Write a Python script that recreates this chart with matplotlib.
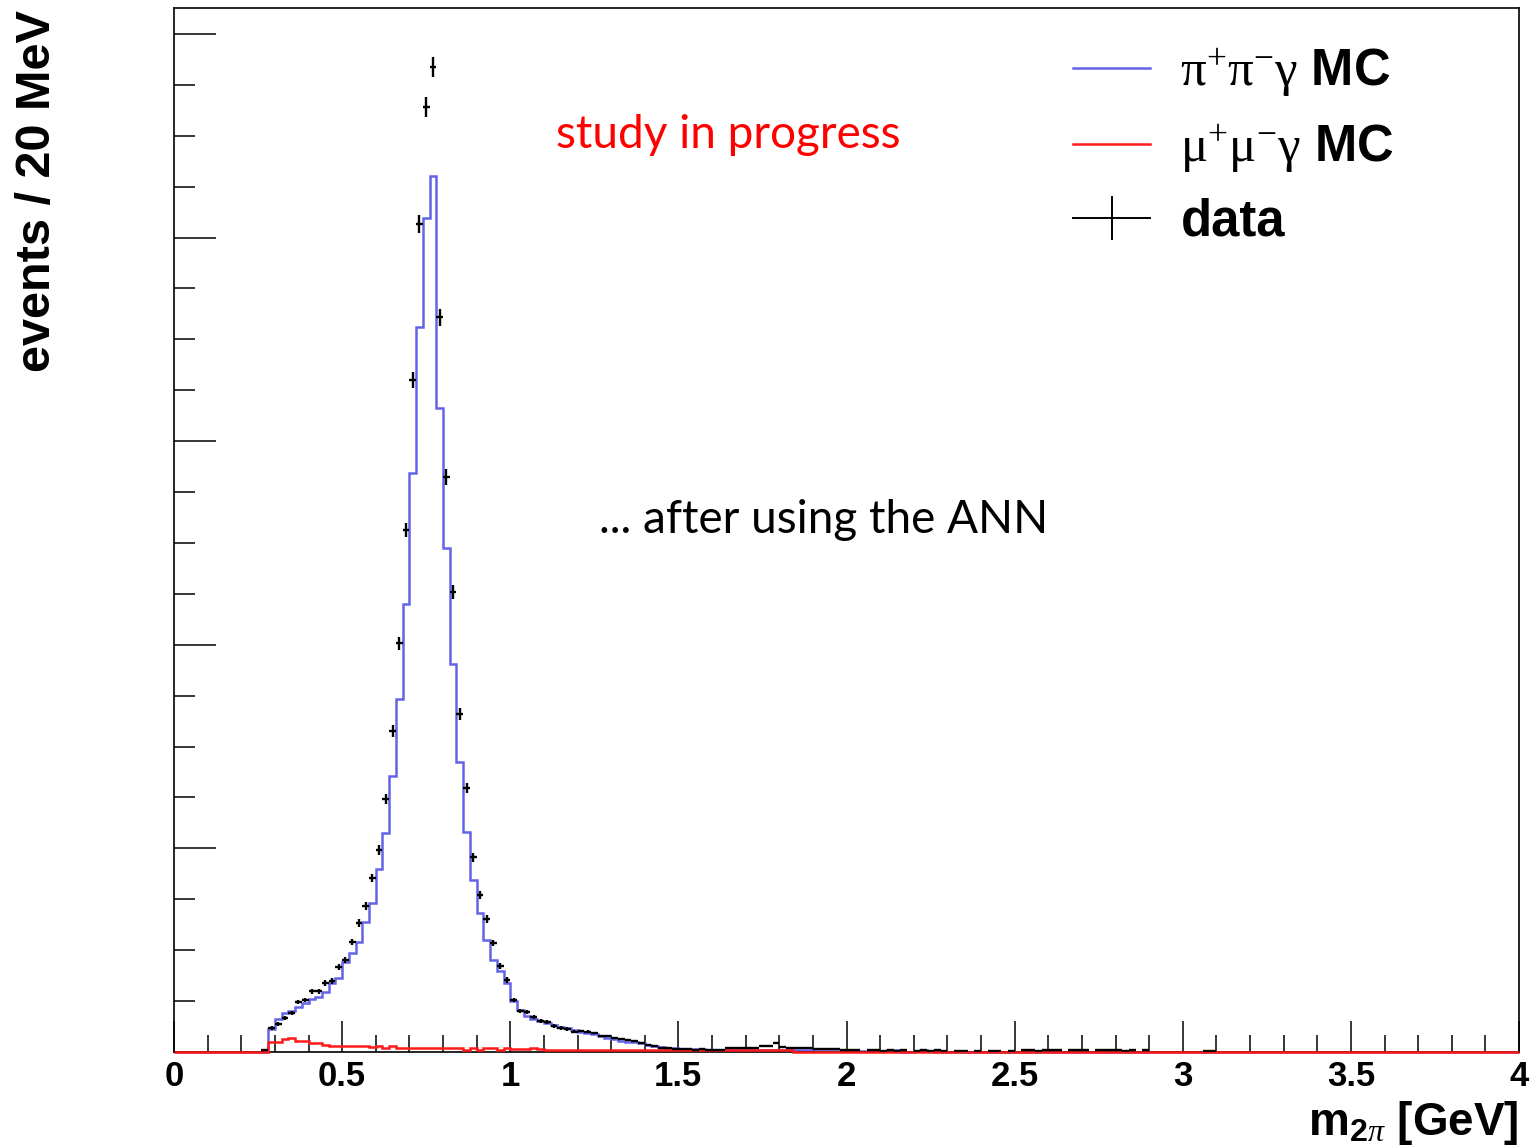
import numpy as np
import matplotlib.pyplot as plt
from matplotlib.lines import Line2D
from matplotlib.ticker import MultipleLocator

plt.rcParams['font.family'] = ['Liberation Sans', 'DejaVu Sans']
plt.rcParams['mathtext.fontset'] = 'custom'
plt.rcParams['mathtext.rm'] = 'Liberation Serif'
plt.rcParams['mathtext.bf'] = 'Liberation Sans:bold'
plt.rcParams['mathtext.it'] = 'Liberation Serif:italic'

# --- histogram data (events per 20 MeV bin) ---
bin_width = 0.02
n_bins = 200

# pi+pi-gamma MC, first bin starts at 0.28 GeV
pipi_start = 0.28
pipi_mc = [
    226, 324, 383, 403, 442, 481, 520, 540, 589, 678,
    727, 884, 972, 1080, 1277, 1463, 1797, 2151, 2710, 3466,
    4399, 5686, 7120, 8190, 8602, 6324, 4949, 3810, 2848, 2160,
    1689, 1365, 1100, 903, 795, 678, 501, 412, 354, 324,
    304, 285, 265, 246, 236, 216, 196, 187, 177, 157,
    137, 128, 108, 98, 98, 88, 69, 59, 49, 39,
    35, 30, 28, 25, 25, 22, 20, 20, 20, 20,
    18, 18, 17, 17, 16, 16, 15, 15, 15, 15,
    15, 14, 14, 14, 14, 12, 12, 12, 12, 12,
    12, 12, 15, 15, 0, 0, 12, 15, 10,
]

# mu+mu-gamma MC, first bin starts at 0.28 GeV
mumu_start = 0.28
mumu_mc = [
    98, 98, 128, 137, 108, 108, 88, 88, 69, 59,
    59, 59, 59, 59, 59, 49, 59, 39, 59, 39,
    39, 39, 39, 39, 39, 39, 39, 39, 39, 20,
    39, 20, 39, 39, 20, 39, 29, 29, 29, 42,
    25, 22, 22, 20, 22, 20, 20, 22, 20, 20,
    22, 20, 20, 22, 20, 22, 20, 20, 22, 20,
    20, 22, 20, 20, 22, 20, 20, 22, 20, 20,
    22, 20, 20, 22, 20, 20, 22, 20,
]

# data, first bin centre at 0.27 GeV
data_start = 0.27
data_counts = [
    15, 236, 275, 334, 383, 491, 511, 599, 599, 678,
    697, 835, 903, 1080, 1267, 1434, 1709, 1984, 2484, 3152,
    4016, 5126, 6599, 8131, 9280, 9673, 7218, 5647, 4517, 3319,
    2592, 1915, 1542, 1306, 1070, 845, 707, 511, 403, 393,
    344, 304, 295, 255, 236, 226, 201, 206, 201, 187,
    157, 157, 137, 128, 118, 108, 88, 69, 59, 39,
    39, 29, 25, 25, 20, 25, 20, 20, 20, 35,
    40, 40, 40, 35, 60, 60, 90, 50, 40, 35,
    35, 35, 25, 25, 30, 30, 20, 20, 20, 0,
    15, 15, 10, 20, 10, 15, 0, 10, 15, 10,
    15, 10, 0, 10, 10, 0, 10, 0, 10, 10,
    0, 10, 0, 15, 15, 10, 20, 15, 15, 0,
    15, 20, 15, 0, 15, 20, 20, 15, 10, 15,
    0, 15, 0, 0, 0, 0, 0, 0, 0, 0,
    10, 10,
]


def full_hist(start, values):
    h = np.zeros(n_bins)
    i0 = int(round(start / bin_width))
    h[i0:i0 + len(values)] = values
    return h


edges = np.arange(n_bins + 1) * bin_width
pipi_h = full_hist(pipi_start, pipi_mc)
mumu_h = full_hist(mumu_start, mumu_mc)

data_y = np.array(data_counts, dtype=float)
data_x = data_start + np.arange(len(data_y)) * bin_width
keep = data_y > 0
data_x, data_y = data_x[keep], data_y[keep]

fig = plt.figure(figsize=(15.35, 11.47), dpi=100)
ax = fig.add_axes([174 / 1535, 1 - 1052 / 1147, 1345 / 1535, 1044 / 1147])

blue = '#6464e8'
red = '#ff1a1a'
ax.stairs(pipi_h, edges, color=blue, lw=1.8, clip_on=False, zorder=2)
ax.stairs(mumu_h, edges, color=red, lw=1.8, clip_on=False, zorder=3)
ax.errorbar(data_x, data_y, xerr=bin_width / 2, yerr=np.sqrt(data_y),
            fmt='none', ecolor='black', elinewidth=1.7, capsize=0, zorder=4)

ax.set_xlim(0, 4)
ax.set_ylim(0, 10255)

ax.xaxis.set_major_locator(MultipleLocator(0.5))
ax.xaxis.set_minor_locator(MultipleLocator(0.1))
ax.yaxis.set_major_locator(MultipleLocator(2000))
ax.yaxis.set_minor_locator(MultipleLocator(500))
ax.xaxis.set_major_formatter(plt.FuncFormatter(lambda v, p: f'{v:g}'))
ax.tick_params(axis='x', which='major', direction='in', length=22, width=1.1,
               labelsize=25, pad=6, top=False)
ax.tick_params(axis='x', which='minor', direction='in', length=12, width=1.1, top=False)
ax.tick_params(axis='y', which='major', direction='in', length=30, width=1.1,
               labelleft=False, right=False)
ax.tick_params(axis='y', which='minor', direction='in', length=15, width=1.1, right=False)
for lab in ax.get_xticklabels():
    lab.set_fontweight('bold')
for s in ax.spines.values():
    s.set_linewidth(1.2)

fig.text(38 / 1535, 1 - 10 / 1147, 'events / 20 MeV', rotation=90,
         ha='center', va='top', fontsize=35, fontweight='bold')
fig.text(1519 / 1535, 1 - 1135 / 1147, r'm$_{\mathbf{2}\pi}$ [GeV]',
         ha='right', va='baseline', fontsize=33, fontweight='bold')

fig.text(728 / 1535, 1 - 135 / 1147, 'study in progress', color='#ff0000',
         ha='center', va='center', fontsize=33, family='Lato')
fig.text(824 / 1535, 1 - 520 / 1147, '... after using the ANN', color='black',
         ha='center', va='center', fontsize=33, family='Lato')

handles = [
    Line2D([], [], color=blue, lw=1.8),
    Line2D([], [], color=red, lw=1.8),
    Line2D([], [], color='black', lw=1.4, marker='|', markersize=31, mew=1.4),
]
labels = [r'$\mathrm{\pi^{+}\pi^{-}\gamma}$ MC', r'$\mathrm{\mu^{+}\mu^{-}\gamma}$ MC', 'data']
leg = ax.legend(handles, labels, loc='upper left', frameon=False,
                bbox_to_anchor=(1073 / 1535, 1 - 46 / 1147), bbox_transform=fig.transFigure,
                prop={'size': 36.5, 'weight': 'bold'}, handlelength=1.52,
                handletextpad=0.6, labelspacing=0.46, borderpad=0, borderaxespad=0)

fig.savefig('out.png', dpi=100)
